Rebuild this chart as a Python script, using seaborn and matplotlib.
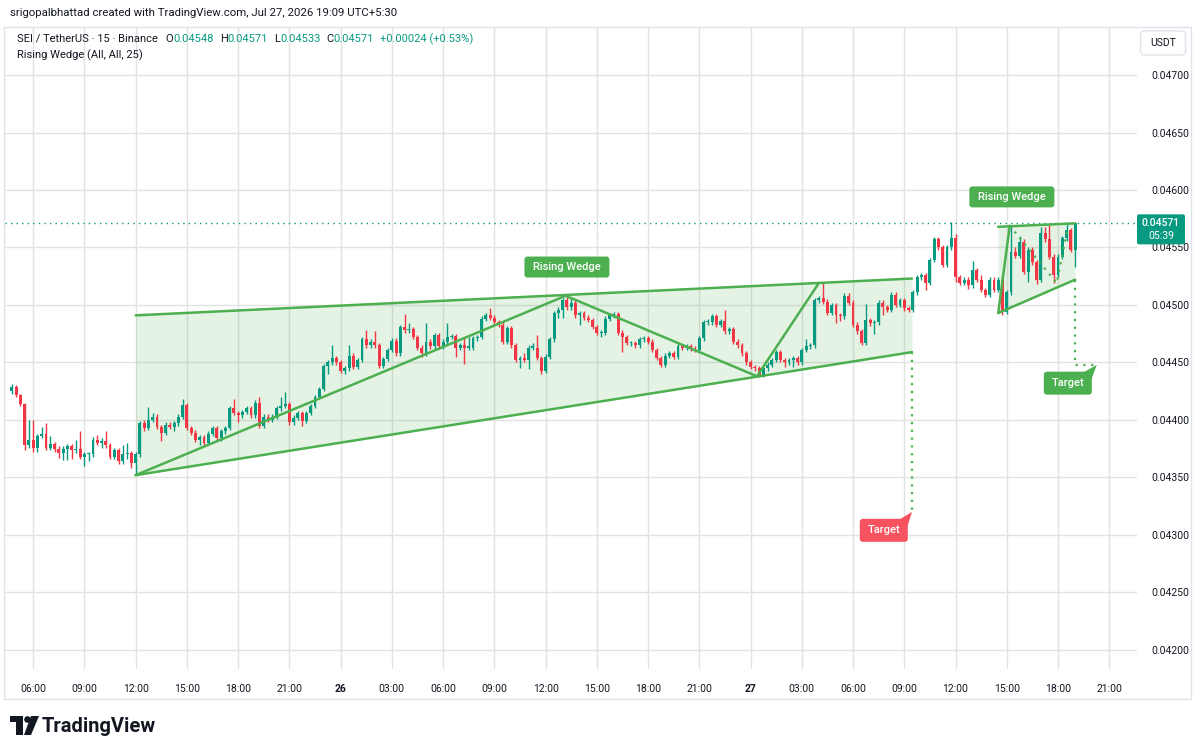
import numpy as np
import pandas as pd
import matplotlib
matplotlib.use("Agg")
import matplotlib.pyplot as plt
import seaborn as sns
from matplotlib.patches import FancyBboxPatch, Polygon, Circle, Rectangle
from matplotlib.transforms import IdentityTransform

# ---------------- data (prices in units of 1e-5 USDT) ----------------
SCALE = 1e-5
start_time = "2026-07-25 04:45"
first_open = 4425

closes = [
    4429, 4422, 4414, 4378, 4383, 4376, 4386, 4388, 4376, 4379, 4375, 4371, 4375, 4377, 4374, 4375, 4368, 4370, 4370, 4383,
    4380, 4382, 4378, 4368, 4374, 4364, 4370, 4371, 4363, 4370,
    4397, 4393, 4400, 4403, 4394, 4389, 4396, 4394, 4397, 4403, 4413, 4393, 4389, 4383, 4385, 4380, 4388, 4393, 4384, 4390,
    4393, 4410, 4406, 4404, 4407, 4410, 4404, 4415, 4395, 4403, 4400, 4403, 4410, 4412, 4414, 4398,
    4402, 4406, 4399, 4406, 4412, 4420, 4427, 4447, 4450, 4454, 4450, 4443, 4445, 4456, 4446, 4452, 4470, 4465, 4468, 4465,
    4447, 4453, 4461, 4469, 4458, 4481, 4478, 4479, 4472, 4463, 4458, 4468,
    4464, 4474, 4464, 4468, 4472, 4473, 4463, 4465, 4463, 4463, 4471, 4472, 4488, 4491, 4489, 4485, 4483, 4468, 4480, 4465,
    4452, 4454, 4452, 4463, 4463, 4454, 4443, 4455, 4470, 4493, 4496, 4504, 4498, 4502, 4491, 4493, 4489, 4487, 4481, 4476,
    4476, 4488, 4491, 4492, 4476, 4472, 4467, 4467, 4465, 4470, 4471, 4468, 4461, 4454, 4448, 4456, 4458, 4455, 4464, 4463,
    4464, 4462, 4461, 4471, 4485, 4485, 4490, 4483, 4486, 4477,
    4479, 4468, 4465, 4458, 4450, 4446, 4445, 4439, 4445, 4448, 4452, 4459, 4452, 4450, 4452, 4454, 4450, 4461, 4464, 4465,
    4504, 4506, 4503, 4493, 4500, 4491, 4490, 4508, 4502, 4483, 4477, 4467, 4487, 4484, 4485, 4502, 4498, 4496, 4509, 4500,
    4504, 4497, 4496, 4511, 4524,
    4526, 4519, 4539, 4557, 4550, 4535, 4550, 4558, 4524, 4519, 4522, 4517, 4530, 4522, 4513, 4509, 4522, 4513, 4522, 4494,
    4511, 4546, 4543, 4555, 4529, 4548, 4537, 4522, 4563, 4557, 4542, 4526, 4542, 4558, 4565, 4548, 4571,
]
highs = [
    4431, 4430, 4423, 4415, 4400, 4400, 4388, 4394, 4397, 4386, 4381, 4377, 4377, 4379, 4379, 4383, 4390, 4372, 4372, 4385,
    4387, 4384, 4390, 4380, 4376, 4376, 4378, 4380, 4373, 4372,
    4399, 4400, 4411, 4406, 4405, 4396, 4398, 4398, 4399, 4405, 4418, 4415, 4395, 4391, 4387, 4387, 4390, 4395, 4395, 4392,
    4395, 4412, 4418, 4408, 4409, 4412, 4412, 4417, 4420, 4405, 4405, 4405, 4412, 4420, 4424, 4416,
    4404, 4408, 4408, 4408, 4414, 4422, 4429, 4449, 4452, 4465, 4456, 4452, 4447, 4465, 4458, 4454, 4472, 4478, 4470, 4477,
    4467, 4455, 4463, 4471, 4471, 4483, 4492, 4484, 4481, 4474, 4465, 4484,
    4470, 4476, 4476, 4470, 4484, 4475, 4475, 4467, 4472, 4472, 4473, 4474, 4490, 4493, 4497, 4491, 4487, 4485, 4482, 4482,
    4467, 4456, 4458, 4465, 4467, 4474, 4456, 4457, 4472, 4495, 4498, 4506, 4508, 4507, 4504, 4495, 4495, 4491, 4489, 4483,
    4478, 4490, 4493, 4494, 4494, 4478, 4474, 4469, 4469, 4472, 4473, 4473, 4470, 4463, 4456, 4458, 4460, 4460, 4466, 4466,
    4466, 4466, 4464, 4473, 4487, 4488, 4492, 4492, 4488, 4496,
    4481, 4481, 4470, 4467, 4460, 4452, 4448, 4447, 4447, 4450, 4454, 4461, 4461, 4454, 4454, 4456, 4456, 4463, 4470, 4467,
    4506, 4508, 4519, 4505, 4502, 4502, 4493, 4510, 4510, 4504, 4485, 4479, 4501, 4489, 4487, 4504, 4504, 4500, 4511, 4511,
    4506, 4506, 4499, 4513, 4526,
    4528, 4528, 4541, 4559, 4559, 4552, 4552, 4572, 4562, 4526, 4524, 4524, 4538, 4532, 4526, 4515, 4524, 4524, 4524, 4524,
    4513, 4569, 4550, 4560, 4557, 4550, 4550, 4539, 4568, 4568, 4570, 4544, 4544, 4560, 4570, 4567, 4571,
]
lows = [
    4423, 4420, 4412, 4374, 4376, 4372, 4372, 4384, 4374, 4374, 4372, 4367, 4365, 4365, 4366, 4371, 4366, 4360, 4364, 4368,
    4378, 4376, 4376, 4366, 4366, 4362, 4362, 4366, 4358, 4352,
    4368, 4390, 4391, 4398, 4392, 4382, 4387, 4392, 4390, 4395, 4401, 4391, 4387, 4381, 4378, 4378, 4378, 4386, 4382, 4382,
    4388, 4391, 4404, 4398, 4402, 4405, 4402, 4402, 4393, 4393, 4398, 4398, 4401, 4408, 4410, 4396,
    4396, 4400, 4395, 4397, 4404, 4410, 4418, 4425, 4440, 4448, 4448, 4441, 4440, 4443, 4444, 4444, 4450, 4463, 4463, 4463,
    4445, 4445, 4451, 4459, 4456, 4456, 4476, 4476, 4470, 4461, 4455, 4456,
    4462, 4462, 4462, 4462, 4466, 4470, 4455, 4461, 4449, 4461, 4461, 4469, 4470, 4486, 4487, 4483, 4481, 4466, 4466, 4463,
    4450, 4445, 4450, 4444, 4461, 4452, 4440, 4441, 4453, 4468, 4489, 4489, 4496, 4496, 4489, 4483, 4487, 4485, 4479, 4474,
    4472, 4474, 4486, 4489, 4474, 4459, 4465, 4464, 4463, 4463, 4468, 4466, 4459, 4452, 4446, 4446, 4454, 4453, 4453, 4461,
    4461, 4460, 4459, 4459, 4469, 4483, 4483, 4481, 4481, 4475,
    4475, 4466, 4463, 4456, 4448, 4444, 4443, 4437, 4437, 4443, 4446, 4450, 4450, 4446, 4448, 4446, 4448, 4448, 4459, 4462,
    4463, 4502, 4501, 4491, 4491, 4484, 4486, 4488, 4500, 4481, 4475, 4465, 4465, 4482, 4475, 4483, 4491, 4494, 4494, 4498,
    4498, 4495, 4494, 4494, 4509,
    4522, 4513, 4517, 4537, 4548, 4533, 4533, 4548, 4520, 4517, 4517, 4514, 4515, 4520, 4511, 4507, 4507, 4511, 4511, 4491,
    4492, 4509, 4541, 4541, 4527, 4520, 4535, 4518, 4520, 4555, 4540, 4519, 4524, 4540, 4556, 4546, 4533,
]

price_ticks = [0.04200, 0.04250, 0.04300, 0.04350, 0.04400, 0.04450, 0.04500, 0.04550, 0.04600, 0.04650, 0.04700]

# Rising wedge #1 (candle index, price e-5)
wedge1_x = [29.0, 210.8]
wedge1_upper = [4491, 4523]
wedge1_lower = [4352, 4459]
wedge1_pivot_x = [29.0, 129.7, 174.5, 188.8]
wedge1_pivot_y = [4352, 4508, 4438, 4518]
wedge1_target = 4320

# Rising wedge #2
wedge2_x = [231.0, 249.0]
wedge2_upper = [4568, 4571]
wedge2_lower = [4493, 4522]
wedge2_leg_x = [231.0, 233.7]
wedge2_leg_y = [4493, 4569]
wedge2_dot_x = [233.7, 244.7, 247.3]
wedge2_dot_y = [4569, 4519, 4568]
wedge2_target = 4448
wedge2_target_end_x = 254.1

label_wedge_pos = [(130.0, 4533), (234.2, 4594)]
label_target_pos = [(204.2, 4304), (247.3, 4432)]

# ---------------- style ----------------
sns.set_theme(style="white")
plt.rcParams['font.family'] = ['Roboto', 'DejaVu Sans']

W, H = 1200, 755
GREEN = "#4CAF50"
UP = "#089981"
DOWN = "#F23645"
TXT = "#131722"
GRID = "#E2E2E2"

fig = plt.figure(figsize=(W / 100, H / 100), dpi=100)
fig.patch.set_facecolor("white")
ax = fig.add_axes([5 / W, (H - 669) / H, (1137 - 5) / W, (669 - 28) / H])
ax.set_facecolor("white")

N = len(closes)
idx = np.arange(N)
c = np.array(closes, float) * SCALE
o = np.array([first_open] + closes[:-1], float) * SCALE
hi = np.maximum.reduce([np.array(highs, float) * SCALE, o, c])
lo = np.minimum.reduce([np.array(lows, float) * SCALE, o, c])
col = np.where(c >= o, UP, DOWN)

ax.set_xlim(-1.6, 263.5)
ax.set_ylim(0.041834, 0.047409)

# grid / axes
times = pd.date_range(start_time, periods=N + 16, freq="15min")
tick_idx = [i for i, t in enumerate(times) if t.minute == 0 and t.hour % 3 == 0]
tick_lab = [str(times[i].day) if times[i].hour == 0 else times[i].strftime("%H:%M") for i in tick_idx]
ax.set_xticks(tick_idx)
ax.set_xticklabels(tick_lab)
for t, lab in zip(ax.get_xticklabels(), tick_lab):
    if ":" not in lab:
        t.set_fontweight("bold")
ax.set_yticks(price_ticks)
ax.set_yticklabels([f"{v:.5f}" for v in price_ticks])
ax.yaxis.tick_right()
ax.grid(True, color=GRID, lw=1, zorder=0)
ax.set_axisbelow(True)
ax.tick_params(axis="x", length=3, color="#D1D4DC", pad=8, labelsize=7.5, labelcolor=TXT)
ax.tick_params(axis="y", length=0, pad=10, labelsize=7.5, labelcolor=TXT)
for s in ax.spines.values():
    s.set_visible(False)

# wedge fills
ax.fill_between(wedge1_x, np.array(wedge1_lower) * SCALE, np.array(wedge1_upper) * SCALE,
                color=GREEN, alpha=0.15, lw=0, zorder=1)
ax.fill_between(wedge2_x, np.array(wedge2_lower) * SCALE, np.array(wedge2_upper) * SCALE,
                color=GREEN, alpha=0.15, lw=0, zorder=1)

# candles
ax.vlines(idx, lo, hi, colors=col, lw=1, zorder=4)
ax.bar(idx, np.maximum(np.abs(c - o), 0.9 * SCALE), bottom=np.minimum(o, c), width=0.68,
       color=col, lw=0, zorder=5)

# current price line
ax.axhline(c[-1], color=UP, ls=(0, (1, 3)), lw=1, zorder=3)

# wedge lines
for xs, ys in [(wedge1_x, wedge1_upper), (wedge1_x, wedge1_lower), (wedge1_pivot_x, wedge1_pivot_y),
               (wedge2_x, wedge2_upper), (wedge2_x, wedge2_lower), (wedge2_leg_x, wedge2_leg_y)]:
    sns.lineplot(x=xs, y=np.array(ys) * SCALE, sort=False, color=GREEN, lw=1.8, ax=ax, zorder=6)
ax.plot(wedge2_dot_x, np.array(wedge2_dot_y) * SCALE, color=GREEN, lw=1.6, ls=(0, (1, 2.5)), zorder=6)

# target lines
ax.plot([wedge1_x[1], wedge1_x[1]], [wedge1_lower[1] * SCALE, wedge1_target * SCALE],
        color=GREEN, lw=1.6, ls=(0, (1, 2.5)), zorder=6)
ax.plot([wedge2_x[1], wedge2_x[1], wedge2_target_end_x],
        [wedge2_lower[1] * SCALE, wedge2_target * SCALE, wedge2_target * SCALE],
        color=GREEN, lw=1.6, ls=(0, (1, 2.5)), zorder=6)


def pxbox(xc, yc, w, h, fc, ec="none", r=3, z=20):
    p = FancyBboxPatch((xc - w / 2, yc - h / 2), w, h, boxstyle=f"round,pad=0,rounding_size={r}",
                       transform=IdentityTransform(), fc=fc, ec=ec, lw=1, zorder=z)
    fig.add_artist(p)


def ftext(x, y, s, **kw):
    return fig.text(x / W, y / H, s, **kw)


# Rising wedge labels
for (xd, yd) in label_wedge_pos:
    X, Y = ax.transData.transform((xd, yd * SCALE))
    pxbox(X, Y, 85, 21, GREEN)
    ftext(X, Y, "Rising Wedge", color="white", fontsize=8, fontweight="medium",
          ha="center", va="center", zorder=21)

# Target labels with pointers
tips = [(wedge1_x[1], wedge1_target), (wedge2_target_end_x, wedge2_target)]
for (xd, yd), (tx, ty), fc in zip(label_target_pos, tips, ["#F7525F", GREEN]):
    X, Y = ax.transData.transform((xd, yd * SCALE))
    TX, TY = ax.transData.transform((tx, ty * SCALE))
    pxbox(X, Y, 48, 23, fc)
    R, T = X + 24, Y + 11.5
    fig.add_artist(Polygon([(R - 8, T - 0.5), (R - 0.5, T - 8), (TX, TY)], closed=True,
                           transform=IdentityTransform(), fc=fc, ec="none", zorder=20))
    ftext(X, Y, "Target", color="white", fontsize=8, fontweight="medium",
          ha="center", va="center", zorder=21)

# price label on the axis
_, PY = ax.transData.transform((0, c[-1]))
pxbox(1161, PY - 6, 48, 30, UP, r=2)
ftext(1161, PY, f"{c[-1]:.5f}", color="white", fontsize=7.5, fontweight="medium", ha="center", va="center", zorder=21)
ftext(1161, PY - 13, "05:39", color="white", fontsize=7.5, ha="center", va="center", zorder=21)

# USDT box
pxbox(1163, H - 43, 45, 24, "white", ec="#E0E3EB", r=4)
ftext(1163, H - 43, "USDT", color=TXT, fontsize=7.5, ha="center", va="center", zorder=21)

# outer frame
fig.add_artist(Rectangle((4, H - 699), 1187, 672, transform=IdentityTransform(),
                         fill=False, ec="#E0E3EB", lw=1, zorder=30))

# header
ftext(10, H - 13, "srigopalbhattad created with TradingView.com, Jul 27, 2026 19:09 UTC+5:30",
      color=TXT, fontsize=8.2, ha="left", va="center")
renderer = fig.canvas.get_renderer()
parts = [("SEI / TetherUS · 15 · Binance", TXT, 8), ("O", TXT, 0), ("0.04548", UP, 6), ("H", TXT, 0),
         ("0.04571", UP, 6), ("L", TXT, 0), ("0.04533", UP, 6), ("C", TXT, 0), ("0.04571", UP, 6),
         ("+0.00024 (+0.53%)", UP, 0)]
xcur = 17
for s, colr, gap in parts:
    t = ftext(xcur, H - 39, s, color=colr, fontsize=8, ha="left", va="center", zorder=25)
    xcur += t.get_window_extent(renderer).width + gap
ftext(17, H - 55, "Rising Wedge (All, All, 25)", color=TXT, fontsize=8, ha="left", va="center", zorder=25)

# TradingView logo
logo = "#131722"
fig.add_artist(Rectangle((10, H - 722), 13, 6, transform=IdentityTransform(), fc=logo, ec="none"))
fig.add_artist(Rectangle((16, H - 735), 7, 19, transform=IdentityTransform(), fc=logo, ec="none"))
fig.add_artist(Circle((27.5, H - 719.5), 3.3, transform=IdentityTransform(), fc=logo, ec="none"))
fig.add_artist(Polygon([(31, H - 716), (39, H - 716), (31, H - 735), (24, H - 735)], closed=True,
                       transform=IdentityTransform(), fc=logo, ec="none"))
ftext(42, H - 726, "TradingView", color=logo, fontsize=14.5, fontweight="bold", ha="left", va="center")

fig.savefig("out.png", dpi=100, facecolor="white")
